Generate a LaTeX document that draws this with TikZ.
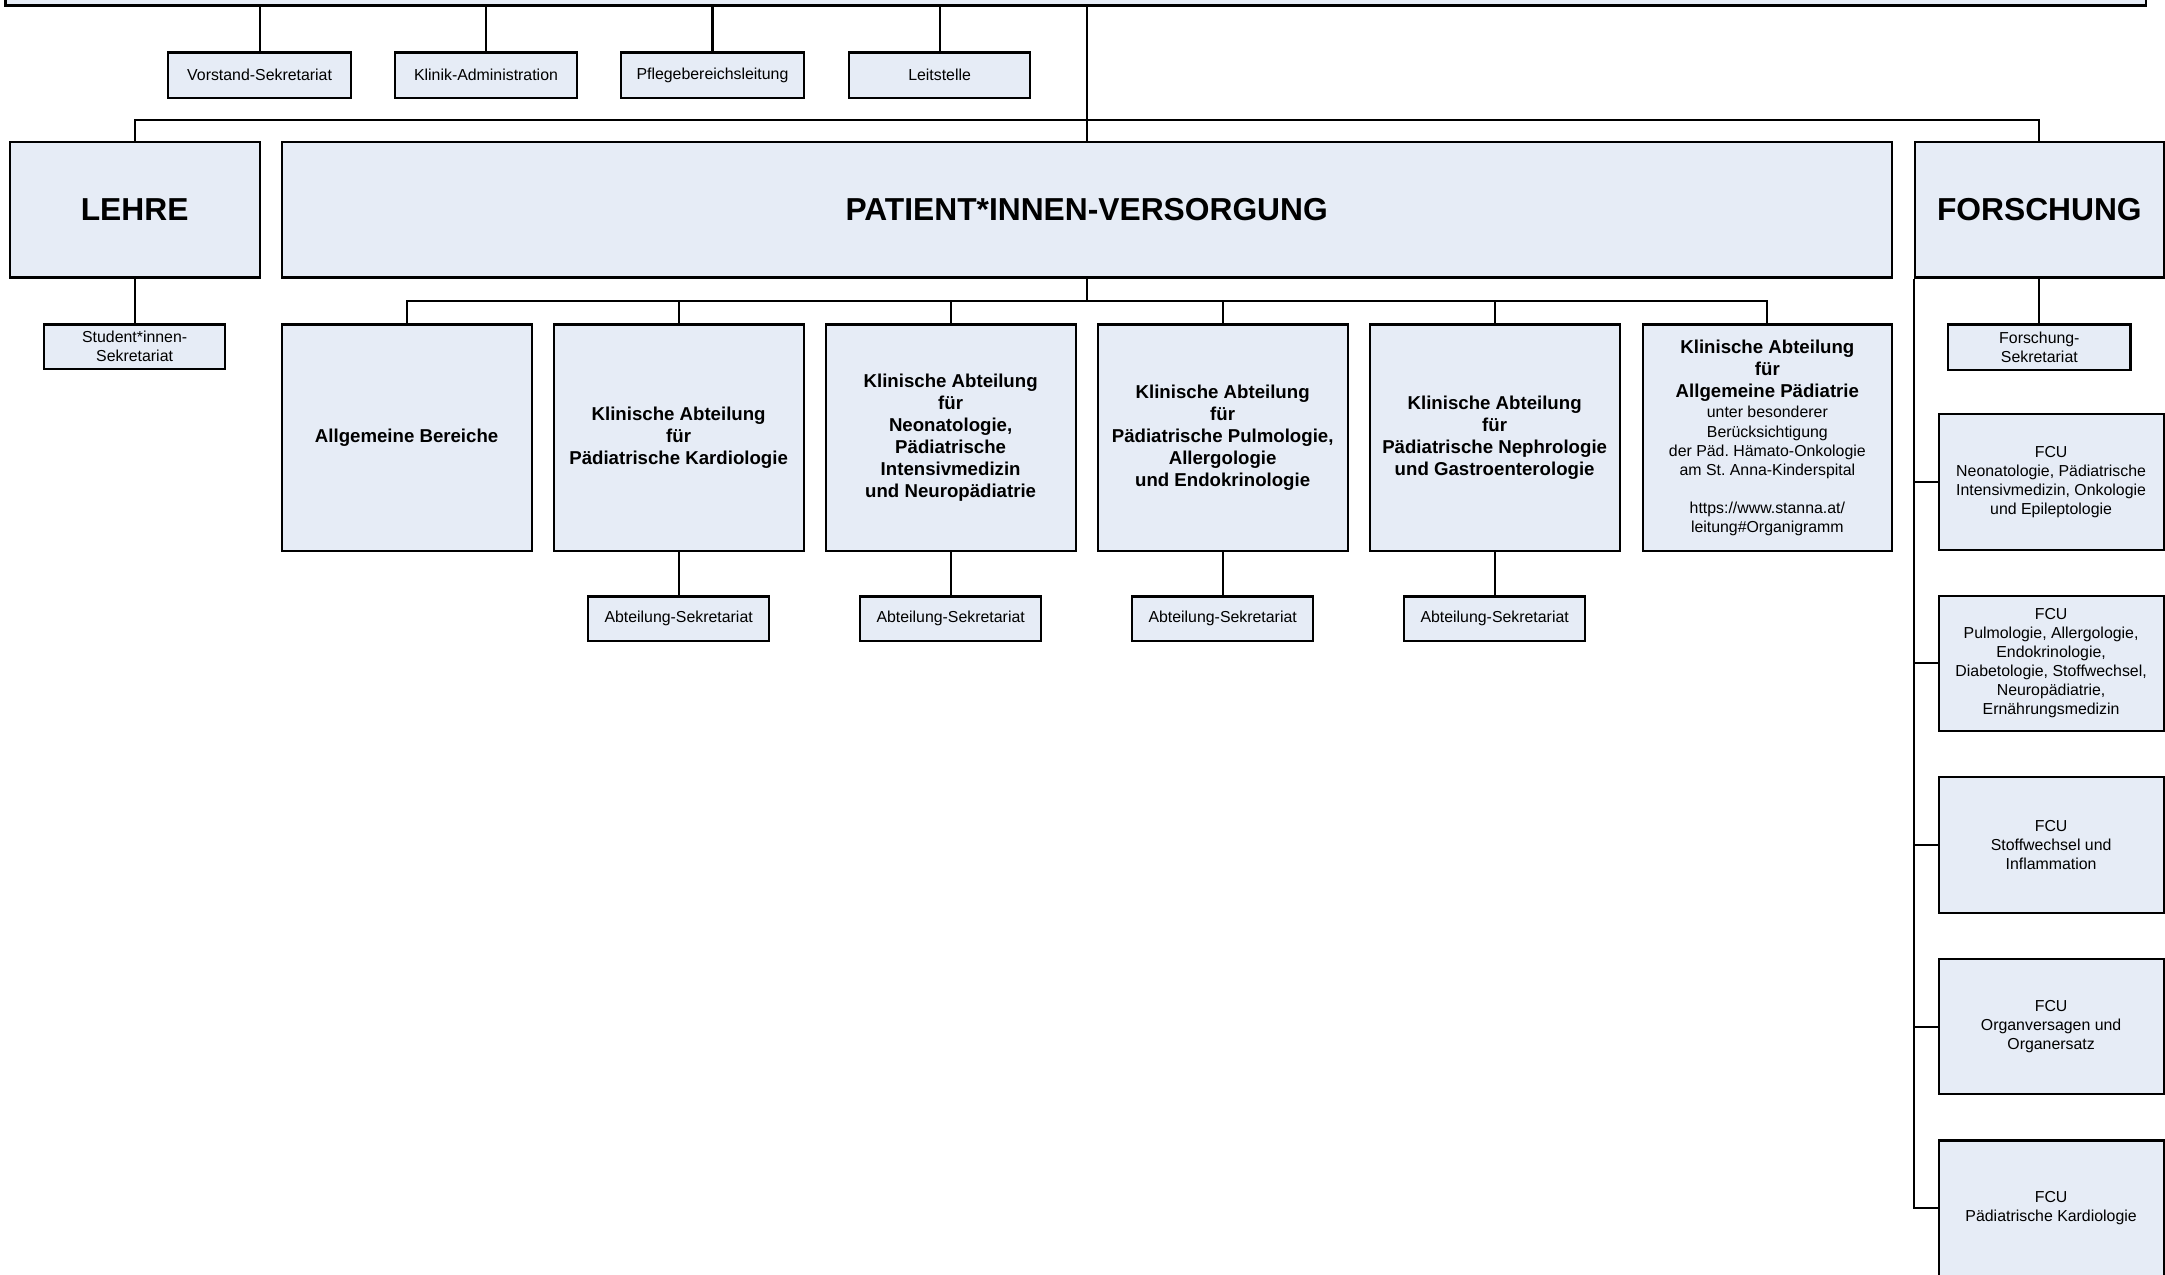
\documentclass[tikz,border=0pt]{standalone}
\usepackage{fontspec}
\setmainfont{Liberation Sans}
\frenchspacing
\definecolor{boxfill}{RGB}{230,236,246}
\tikzset{
  box/.style={draw=black, fill=boxfill, line width=1.5pt, inner sep=0pt, align=center, anchor=center},
  bigtxt/.style={font=\fontsize{23}{27}\selectfont\bfseries},
  boldtxt/.style={font=\fontsize{13.5}{16}\selectfont\bfseries},
  smalltxt/.style={font=\fontsize{11.5}{13.8}\selectfont},
  conn/.style={draw=black, line width=1.5pt},
}
\begin{document}
\begin{tikzpicture}[x=1pt, y=-1pt]
\clip (0,0) rectangle (1568,923);
\fill[white] (0,0) rectangle (1568,923);
% top box (cut off)
\node[box, minimum width=1550pt, minimum height=40pt] (top) at (779,-16) {};
% staff units
\node[box, smalltxt, minimum width=132pt, minimum height=33pt] (vs) at (188,54.5) {Vorstand-Sekretariat};
\node[box, smalltxt, minimum width=132pt, minimum height=33pt] (ka) at (352,54.5) {Klinik-Administration};
\node[box, smalltxt, minimum width=132pt, minimum height=33pt] (pf) at (516,54.5) {Pflegebereichsleitung};
\node[box, smalltxt, minimum width=131pt, minimum height=33pt] (ls) at (680.5,54.5) {Leitstelle};
% main pillars
\node[box, bigtxt, minimum width=181pt, minimum height=98pt] (lehre) at (97.5,152) {LEHRE};
\node[box, bigtxt, minimum width=1166pt, minimum height=98pt] (pat) at (787,152) {PATIENT*INNEN-VERSORGUNG};
\node[box, bigtxt, minimum width=180pt, minimum height=98pt] (fo) at (1477,152) {FORSCHUNG};
% secretariats of pillars
\node[box, smalltxt, minimum width=131pt, minimum height=32pt] (stud) at (97.5,251) {Student*innen-\\Sekretariat};
\node[box, smalltxt, minimum width=132pt, minimum height=33pt] (fsek) at (1477,251.5) {Forschung-\\Sekretariat};
% departments
\node[box, boldtxt, minimum width=181pt, minimum height=164pt] (ab1) at (294.5,317) {Allgemeine Bereiche};
\node[box, boldtxt, minimum width=181pt, minimum height=164pt] (ab2) at (491.5,317) {Klinische Abteilung\\für\\Pädiatrische Kardiologie};
\node[box, boldtxt, minimum width=181pt, minimum height=164pt] (ab3) at (688.5,317) {Klinische Abteilung\\für\\Neonatologie,\\Pädiatrische\\Intensivmedizin\\und Neuropädiatrie};
\node[box, boldtxt, minimum width=181pt, minimum height=164pt] (ab4) at (885.5,317) {Klinische Abteilung\\für\\Pädiatrische Pulmologie,\\Allergologie\\und Endokrinologie};
\node[box, boldtxt, minimum width=181pt, minimum height=164pt] (ab5) at (1082.5,317) {Klinische Abteilung\\für\\Pädiatrische Nephrologie\\und Gastroenterologie};
\node[box, smalltxt, minimum width=180pt, minimum height=164pt] (ab6) at (1280,317) {{\fontsize{13.5}{16}\selectfont\bfseries Klinische Abteilung}\\[2.2pt]{\fontsize{13.5}{16}\selectfont\bfseries für}\\[2.2pt]{\fontsize{13.5}{16}\selectfont\bfseries Allgemeine Pädiatrie}\\[1pt]unter besonderer\\Berücksichtigung\\der Päd. Hämato-Onkologie\\am St. Anna-Kinderspital\\[13.8pt]https://www.stanna.at/\\leitung\#Organigramm};
% department secretariats
\node[box, smalltxt, minimum width=131pt, minimum height=32pt] (sek2) at (491.5,448) {Abteilung-Sekretariat};
\node[box, smalltxt, minimum width=131pt, minimum height=32pt] (sek3) at (688.5,448) {Abteilung-Sekretariat};
\node[box, smalltxt, minimum width=131pt, minimum height=32pt] (sek4) at (885.5,448) {Abteilung-Sekretariat};
\node[box, smalltxt, minimum width=131pt, minimum height=32pt] (sek5) at (1082.5,448) {Abteilung-Sekretariat};
% FCUs
\node[box, smalltxt, minimum width=163pt, minimum height=98pt] (fcu1) at (1485.5,349) {FCU\\Neonatologie, Pädiatrische\\Intensivmedizin, Onkologie\\und Epileptologie};
\node[box, smalltxt, minimum width=163pt, minimum height=98pt] (fcu2) at (1485.5,480.5) {FCU\\Pulmologie, Allergologie,\\Endokrinologie,\\Diabetologie, Stoffwechsel,\\Neuropädiatrie,\\Ernährungsmedizin};
\node[box, smalltxt, minimum width=163pt, minimum height=98pt] (fcu3) at (1485.5,612) {FCU\\Stoffwechsel und\\Inflammation};
\node[box, smalltxt, minimum width=163pt, minimum height=98pt] (fcu4) at (1485.5,743.5) {FCU\\Organversagen und\\Organersatz};
\node[box, smalltxt, minimum width=163pt, minimum height=98pt] (fcu5) at (1485.5,875) {FCU\\Pädiatrische Kardiologie};
% helper coordinates
\coordinate (hb) at (0,87);
\coordinate (hc) at (0,218);
% connectors: top to staff
\foreach \n in {vs,ka,pf,ls} \draw[conn] (\n.north) -- (\n.north |- top.south);
% trunk
\draw[conn] (top.south -| pat.north) -- (pat.north);
\draw[conn] (lehre.north) -- (lehre.north |- hb) -- (fo.north |- hb) -- (fo.north);
% pillars to secretariats
\draw[conn] (lehre.south) -- (stud.north);
\draw[conn] (fo.south) -- (fsek.north);
% patient care to departments
\draw[conn] (pat.south) -- (pat.south |- hc);
\draw[conn] (ab1.north) -- (ab1.north |- hc) -- (ab6.north |- hc) -- (ab6.north);
\foreach \n in {ab2,ab3,ab4,ab5} \draw[conn] (\n.north) -- (\n.north |- hc);
% departments to secretariats
\draw[conn] (ab2.south) -- (sek2.north);
\draw[conn] (ab3.south) -- (sek3.north);
\draw[conn] (ab4.south) -- (sek4.north);
\draw[conn] (ab5.south) -- (sek5.north);
% research to FCUs
\draw[conn] (fo.south west) -- (fo.south west |- fcu5.west) -- (fcu5.west);
\foreach \n in {fcu1,fcu2,fcu3,fcu4} \draw[conn] (\n.west) -- (\n.west -| fo.south west);
\end{tikzpicture}
\end{document}
